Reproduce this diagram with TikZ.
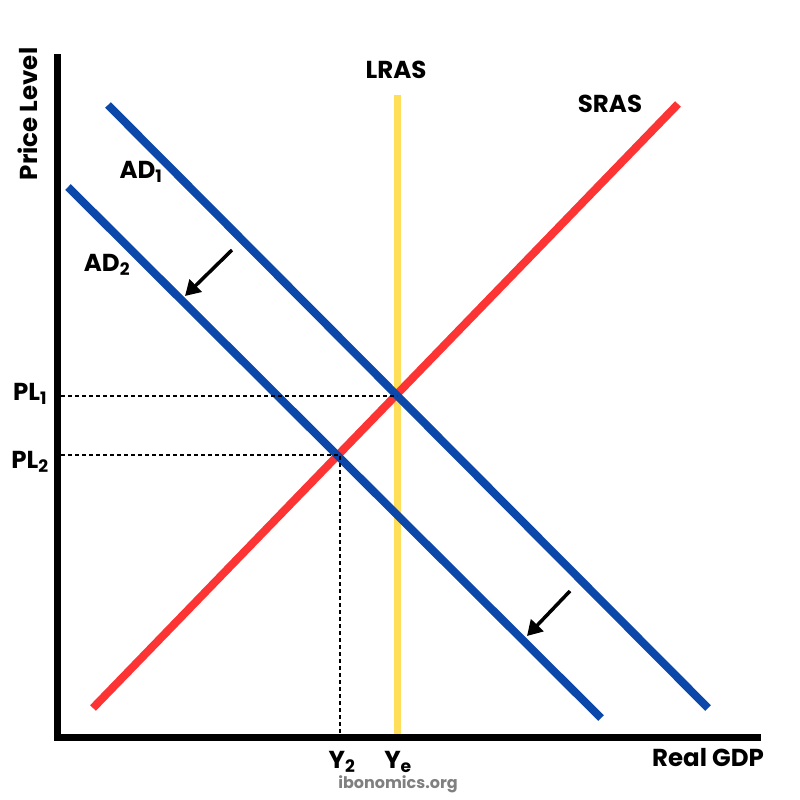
\documentclass[tikz,border=0pt]{standalone}
\usepackage{fontspec}
\setmainfont{Poppins}
\usetikzlibrary{arrows.meta}
\begin{document}
\begin{tikzpicture}[x=1pt,y=-1pt,
  lbl/.style={font=\bfseries\fontsize{24.5}{27}\selectfont, text=black, inner sep=0pt},
  axisline/.style={line width=7.5pt, black},
  adline/.style={line width=8pt, color={rgb,255:red,12;green,72;blue,170}},
  sras/.style={line width=8pt, color={rgb,255:red,252;green,52;blue,52}},
  lras/.style={line width=7pt, color={rgb,255:red,255;green,222;blue,90}},
  guide/.style={line width=1.1pt, dash pattern=on 4pt off 3pt, black},
  shiftarrow/.style={line width=3.5pt, -{Triangle[length=15pt,width=17pt]}, black}]
\useasboundingbox (0,0) rectangle (800,800);
% axes
\coordinate (top) at (57.5,58);
\coordinate (origin) at (57.5,737.5);
\coordinate (right) at (757,737.5);
\draw[axisline, line cap=rect] (top) -- (origin) -- (right);
% curves
\coordinate (lrasT) at (397,95);
\coordinate (lrasB) at (397,734);
\draw[lras] (lrasT) -- (lrasB);
\coordinate (srasA) at (93,708);
\coordinate (srasB) at (678,104);
\draw[sras] (srasA) -- (srasB);
\coordinate (ad1A) at (108,105);
\coordinate (ad1B) at (708,708);
\draw[adline] (ad1A) -- (ad1B);
\coordinate (ad2A) at (68,187);
\coordinate (ad2B) at (601,718);
\draw[adline] (ad2A) -- (ad2B);
% guides
\coordinate (pl1L) at (61,396);
\coordinate (e1) at (397,396);
\coordinate (pl2L) at (61,455);
\coordinate (e2) at (340,455);
\coordinate (y2B) at (340,734);
\draw[guide] (pl1L) -- (e1);
\draw[guide] (pl2L) -- (e2) -- (y2B);
% shift arrows
\coordinate (a1s) at (232,250);
\coordinate (a1e) at (185,296);
\coordinate (a2s) at (570,591);
\coordinate (a2e) at (527,636);
\draw[shiftarrow] (a1s) -- (a1e);
\draw[shiftarrow] (a2s) -- (a2e);
% labels
\node[lbl, rotate=90] (pl) at (28,114) {Price Level};
\node[lbl] (gdp) at (708,758) {Real GDP};
\node[lbl] (lrasl) at (396,70) {LRAS};
\node[lbl] (srasl) at (610,104) {SRAS};
\node[lbl] (ad1l) at (141,172) {AD\textsubscript{1}};
\node[lbl] (ad2l) at (107,265) {AD\textsubscript{2}};
\node[lbl] (pl1l) at (30,394) {PL\textsubscript{1}};
\node[lbl] (pl2l) at (30,462) {PL\textsubscript{2}};
\node[lbl] (y2l) at (342,762) {Y\textsubscript{2}};
\node[lbl] (yel) at (398,762) {Y\textsubscript{e}};
\node[font=\bfseries\fontsize{16}{18}\selectfont, text={rgb,255:red,128;green,128;blue,128}, inner sep=0pt] (src) at (398,784) {ibonomics.org};
\end{tikzpicture}
\end{document}
